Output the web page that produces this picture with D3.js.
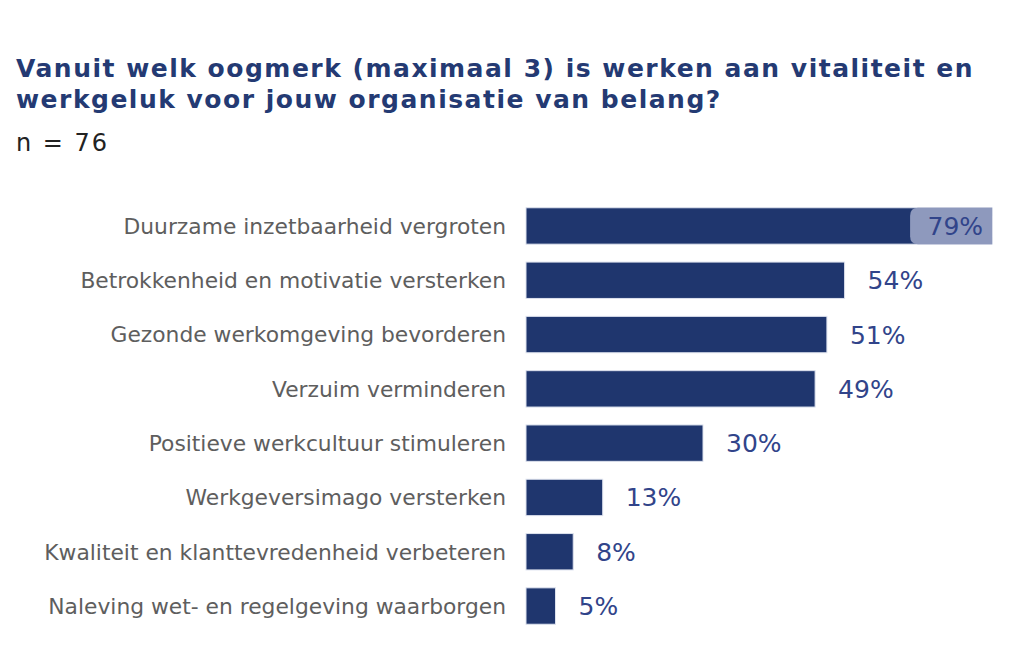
<!DOCTYPE html>
<html><head><meta charset="utf-8">
<script src="https://cdn.jsdelivr.net/npm/d3@7"></script>
<style>
body{margin:0;background:#fff;}
svg text{font-family:"DejaVu Sans",Verdana,sans-serif;}
</style></head>
<body><svg id="chart" width="1030" height="663"></svg>
<script>
const categories = [
  "Duurzame inzetbaarheid vergroten",
  "Betrokkenheid en motivatie versterken",
  "Gezonde werkomgeving bevorderen",
  "Verzuim verminderen",
  "Positieve werkcultuur stimuleren",
  "Werkgeversimago versterken",
  "Kwaliteit en klanttevredenheid verbeteren",
  "Naleving wet- en regelgeving waarborgen"
];
const values = [79, 54, 51, 49, 30, 13, 8, 5];
const titleLines = ["Vanuit welk oogmerk (maximaal 3) is werken aan vitaliteit en", "werkgeluk voor jouw organisatie van belang?"];
const subtitle = "n = 76";

const svg = d3.select("#chart");
const x0 = 526;
const x = d3.scaleLinear().domain([0, 100]).range([x0, x0 + 590]);
const y = d3.scaleBand().domain(categories).range([198, 634]).paddingInner(0.33).paddingOuter(0.18);

svg.append("g").selectAll("text").data(titleLines).join("text")
  .attr("x", 16).attr("y", (d, i) => 77 + i * 31)
  .attr("fill", "#243a73").attr("font-weight", "bold").attr("font-size", 25)
  .attr("letter-spacing", 1.5)
  .text(d => d);
svg.append("text").attr("x", 16).attr("y", 151).attr("fill", "#222")
  .attr("font-size", 24).attr("letter-spacing", 2).text(subtitle);

const g = svg.append("g");
g.selectAll("rect.bar").data(values).join("rect").attr("class", "bar")
  .attr("x", x(0)).attr("y", (d, i) => y(categories[i]))
  .attr("width", d => x(d) - x(0)).attr("height", y.bandwidth())
  .attr("fill", "#1f366e").attr("stroke", "#dde2ee").attr("stroke-width", 1);

g.selectAll("text.cat").data(categories).join("text").attr("class", "cat")
  .attr("x", 506).attr("y", d => y(d) + y.bandwidth() / 2).attr("dy", "0.36em")
  .attr("text-anchor", "end").attr("fill", "#5e5e5e").attr("font-size", 21.8)
  .text(d => d);

// value labels
const labelW = 82;
values.forEach((v, i) => {
  const yy = y(categories[i]) + y.bandwidth() / 2;
  const inside = x(v) + 24 + 60 > 1030;
  if (inside) {
    const bx = x(v) - labelW, by = y(categories[i]), bh = y.bandwidth(), r = 8;
    g.append("path")
      .attr("d", `M${bx + r},${by} H${x(v)} V${by + bh} H${bx + r} Q${bx},${by + bh} ${bx},${by + bh - r} V${by + r} Q${bx},${by} ${bx + r},${by} Z`)
      .attr("fill", "#8e99bd");
    g.append("text").attr("x", x(v) - 9).attr("y", yy).attr("dy", "0.36em")
      .attr("text-anchor", "end").attr("fill", "#31448a").attr("font-size", 25).text(v + "%");
  } else {
    g.append("text").attr("x", x(v) + 23).attr("y", yy).attr("dy", "0.36em")
      .attr("fill", "#31448a").attr("font-size", 25).text(v + "%");
  }
});
</script></body></html>
